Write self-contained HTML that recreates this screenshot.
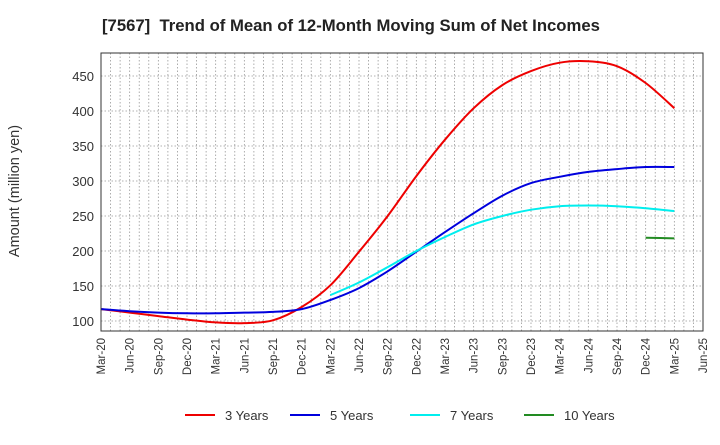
<!DOCTYPE html>
<html><head><meta charset="utf-8"><style>
body{margin:0;background:#fff;font-family:"Liberation Sans",sans-serif}
</style></head><body>
<svg width="720" height="440" xmlns="http://www.w3.org/2000/svg" style="font-family:'Liberation Sans',sans-serif">
<text x="102" y="31" font-size="16.7" font-weight="bold" fill="#222" xml:space="preserve">[7567]  Trend of Mean of 12-Month Moving Sum of Net Incomes</text>
<text transform="translate(19,191) rotate(-90)" text-anchor="middle" font-size="14.5" fill="#333">Amount (million yen)</text>
<g id="grid"></g><g id="axes"></g><g id="series"></g>
<rect x="101" y="53" width="602" height="278" fill="none" stroke="#333" stroke-width="1"/>
<g id="legend"></g>
</svg>
<script>
const xLabels=["Mar-20","Jun-20","Sep-20","Dec-20","Mar-21","Jun-21","Sep-21","Dec-21","Mar-22","Jun-22","Sep-22","Dec-22","Mar-23","Jun-23","Sep-23","Dec-23","Mar-24","Jun-24","Sep-24","Dec-24","Mar-25","Jun-25"];
const yTicks=[100,150,200,250,300,350,400,450];
const s3=[117,112,107,102,98,97,101,120,151,199,250,307,359,404,437,457,469,471,464,440,404];
const s5=[117,114,112,111,111,112,113,117,130,147,171,199,227,254,279,297,306,313,317,320,320];
const s7=[null,null,null,null,null,null,null,null,137,155,177,200,220,238,250,259,264,265,264,261,257];
const s10=[null,null,null,null,null,null,null,null,null,null,null,null,null,null,null,null,null,null,null,219,218];
const NS="http://www.w3.org/2000/svg";
const X0=101,X1=703,Y0=331;
const xs=i=>X0+i*(X1-X0)/21;
const ys=v=>321-(v-100)*0.7;
function mk(t,a,p){const e=document.createElementNS(NS,t);for(const k in a)e.setAttribute(k,a[k]);p.appendChild(e);return e;}
const grid=document.getElementById('grid'),axes=document.getElementById('axes');
for(let m=1;m<63;m++){const x=X0+m*(X1-X0)/63;
const l=mk('line',{x1:x,x2:x,y1:53,y2:331,stroke:'#999','stroke-width':0.8,'stroke-dasharray':'1.5,2'},grid);

}
yTicks.forEach(v=>{const y=ys(v);
const l=mk('line',{x1:X0,x2:X1,y1:y,y2:y,stroke:'#999','stroke-width':0.8,'stroke-dasharray':'1.5,2'},grid);


const t=mk('text',{x:94,y:y+5,'text-anchor':'end','font-size':13,fill:'#333'},axes);t.textContent=v;

});
xLabels.forEach((s,i)=>{const x=xs(i);
const t=mk('text',{transform:`translate(${x+4},338) rotate(-90)`,'text-anchor':'end','font-size':11.5,fill:'#333'},axes);t.textContent=s;

});
function path(arr){const p=[];arr.forEach((v,i)=>{if(v!=null)p.push([xs(i),ys(v)]);});
if(p.length<2)return '';let d=`M${p[0][0]},${p[0][1]}`;
for(let i=0;i<p.length-1;i++){const a=p[Math.max(0,i-1)],b=p[i],c=p[i+1],e=p[Math.min(p.length-1,i+2)];
const c1=[b[0]+(c[0]-a[0])/6,b[1]+(c[1]-a[1])/6],c2=[c[0]-(e[0]-b[0])/6,c[1]-(e[1]-b[1])/6];
d+=` C${c1[0]},${c1[1]} ${c2[0]},${c2[1]} ${c[0]},${c[1]}`;}return d;}
const ser=document.getElementById('series');
const defs=[[s3,'#ee0000','3 Years',185],[s5,'#0000dd','5 Years',290],[s7,'#00eeee','7 Years',410],[s10,'#228b22','10 Years',524]];
const leg=document.getElementById('legend');
defs.forEach(([arr,c,name,lx])=>{
const p=mk('path',{d:path(arr),fill:'none',stroke:c,'stroke-width':2},ser);


const l=mk('line',{x1:lx,x2:lx+30,y1:415,y2:415,stroke:c,'stroke-width':2},leg);


const t=mk('text',{x:lx+40,y:420,'font-size':13,fill:'#333'},leg);t.textContent=name;

});
</script>
</body></html>
